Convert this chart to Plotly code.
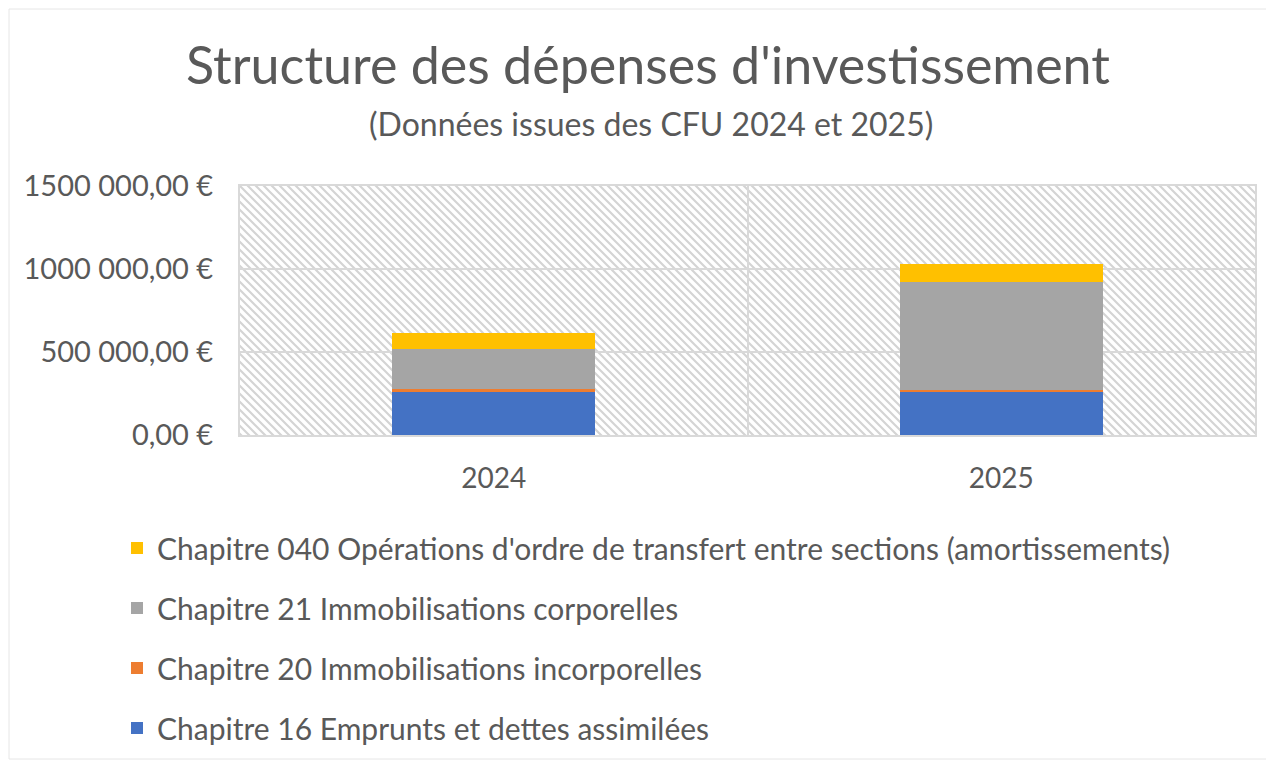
import base64
import plotly.graph_objects as go

years = ["2024", "2025"]
ch16 = [262000, 262000]
ch20 = [18000, 12000]
ch21 = [238000, 650000]
ch040 = [97000, 104000]

series_names = [
    "Chapitre 16 Emprunts et dettes assimilées",
    "Chapitre 20 Immobilisations incorporelles",
    "Chapitre 21 Immobilisations corporelles",
    "Chapitre 040 Opérations d'ordre de transfert entre sections (amortissements)",
]
series_values = [ch16, ch20, ch21, ch040]
series_colors = ["#4472C4", "#ED7D31", "#A5A5A5", "#FFC000"]

y_tickvals = [0, 500000, 1000000, 1500000]
y_ticktext = ["0,00 €", "500 000,00 €", "1000 000,00 €", "1500 000,00 €"]

FONT = "Lato"
GREY = "#595959"

# page body margin shifts the figure by OFF px; work in reference pixels
OFF = 8
W, H = 1274 - OFF, 760 - OFF
PL, PR, PT, PB = 240, 1255, 186, 435
PW, PH = PR - PL, PB - PT


def px_x(px):
    return (px - PL) / PW


def px_y(py):
    return (PB - py) / PH


fig = go.Figure()
n = len(series_names)
for i, (name, vals, col) in enumerate(zip(series_names, series_values, series_colors)):
    fig.add_trace(go.Bar(
        x=years, y=vals, name=name, marker=dict(color=col, line=dict(width=0)),
        legendgroup=name, legendrank=n - i,
    ))

# hatched plot-area background
svg = ('<svg xmlns="http://www.w3.org/2000/svg" width="1015" height="249">'
       '<defs><pattern id="p" width="8" height="8" patternUnits="userSpaceOnUse">'
       '<path d="M-2,-2 L10,10 M-2,6 L2,10 M6,-2 L10,2" stroke="#d4d4d4" stroke-width="2.2"/>'
       '</pattern></defs><rect width="100%" height="100%" fill="url(#p)"/></svg>')
src = "data:image/svg+xml;base64," + base64.b64encode(svg.encode()).decode()

fig.update_layout(
    width=W, height=H,
    barmode="stack", bargap=0.6,
    paper_bgcolor="white", plot_bgcolor="white",
    margin=dict(l=PL - OFF, r=1274 - PR, t=PT - OFF, b=760 - PB, autoexpand=False),
    font=dict(family=FONT, color=GREY),
    images=[dict(source=src, xref="paper", yref="paper", x=0, y=1, sizex=1, sizey=1,
                 xanchor="left", yanchor="top", sizing="stretch", layer="below")],
    legend=dict(
        xref="container", yref="container", x=(117 - OFF) / W, y=1 - (522 - OFF) / H,
        xanchor="left", yanchor="top", traceorder="grouped",
        font=dict(size=30, color=GREY, family=FONT), tracegroupgap=18,
        bgcolor="rgba(0,0,0,0)",
    ),
    annotations=[
        dict(text="Structure des dépenses d'investissement", xref="paper", yref="paper",
             x=px_x(648), y=px_y(64), xanchor="center", yanchor="middle",
             showarrow=False, font=dict(size=52, color=GREY, family=FONT)),
        dict(text="(Données issues des CFU 2024 et 2025)", xref="paper", yref="paper",
             x=px_x(651), y=px_y(123), xanchor="center", yanchor="middle",
             showarrow=False, font=dict(size=32, color=GREY, family=FONT)),
    ],
)

fig.update_xaxes(
    type="category", tickson="boundaries", showgrid=True, gridcolor="#d9d9d9", gridwidth=2,
    showline=True, linecolor="#d9d9d9", linewidth=2, mirror=True, ticks="",
    tickfont=dict(size=28, color=GREY, family=FONT), ticklabelstandoff=17, tickangle=0,
)
fig.update_yaxes(
    range=[0, 1500000], tickvals=y_tickvals, ticktext=y_ticktext,
    showgrid=True, gridcolor="#d9d9d9", gridwidth=2, zeroline=False,
    showline=True, linecolor="#d9d9d9", linewidth=2, mirror=True, ticks="",
    tickfont=dict(size=29, color=GREY, family=FONT), ticklabelstandoff=19,
)

fig.add_shape(type="rect", xref="paper", yref="paper", x0=px_x(OFF + 1), x1=px_x(1273),
              y0=px_y(759), y1=px_y(OFF + 1), line=dict(color="#e6e6e6", width=1),
              layer="below")

fig.write_html("out.html")
